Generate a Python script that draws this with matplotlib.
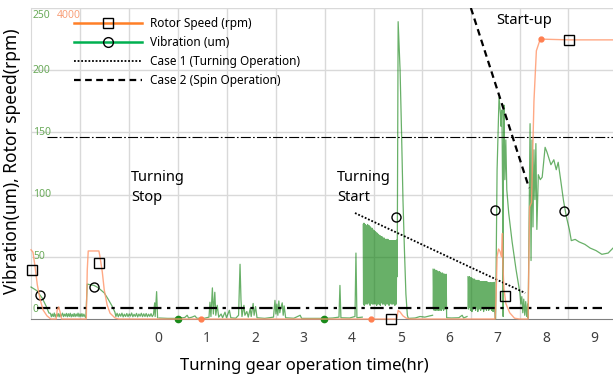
import numpy as np
import matplotlib.pyplot as plt
from matplotlib.lines import Line2D

plt.rcParams['font.family'] = ['Noto Sans', 'DejaVu Sans']

# vibration (um), (hr, um) pairs per stage
vib_stop = [
    (-2.62, 25.7), (-2.55, 24.0), (-2.49, 22.5), (-2.44, 19.5), (-2.39, 16.9), (-2.31, 10.5), (-2.25, 4.8),
    (-2.22, 4.6), (-2.20, 1.8), (-2.18, 4.0), (-2.16, 2.0), (-2.14, 4.8), (-2.12, 1.6), (-2.10, 3.8), (-2.08, 2.2),
    (-2.06, 4.4), (-2.04, 1.7), (-2.02, 4.1), (-2.00, 2.0), (-1.97, 4.7), (-1.95, 1.9), (-1.93, 3.9), (-1.91, 2.3),
    (-1.89, 4.5), (-1.87, 1.8), (-1.85, 4.2), (-1.83, 2.1), (-1.81, 4.6), (-1.79, 1.7), (-1.77, 3.8), (-1.75, 2.0),
    (-1.73, 4.4), (-1.71, 1.9), (-1.69, 4.0), (-1.67, 2.2), (-1.65, 4.7), (-1.63, 1.8), (-1.61, 4.1), (-1.59, 2.0),
    (-1.57, 4.3), (-1.55, 1.9), (-1.53, 3.9), (-1.51, 2.1), (-1.49, 1.0),
    (-1.46, 28.1), (-1.40, 27.5), (-1.32, 27.0), (-1.25, 25.5), (-1.20, 24.0), (-1.11, 21.0), (-1.03, 16.0),
    (-0.95, 10.5), (-0.89, 5.5),
    (-0.87, 2.0), (-0.845, 4.6), (-0.82, 1.8), (-0.795, 4.2), (-0.77, 2.2), (-0.745, 4.7), (-0.72, 1.7),
    (-0.695, 3.9), (-0.67, 2.0), (-0.645, 4.4), (-0.62, 1.9), (-0.595, 4.1), (-0.57, 2.3), (-0.545, 4.8),
    (-0.52, 1.8), (-0.495, 3.8), (-0.47, 2.1), (-0.445, 4.5), (-0.42, 1.7), (-0.395, 4.0), (-0.37, 2.2),
    (-0.345, 4.6), (-0.32, 1.9), (-0.295, 4.2), (-0.27, 2.0), (-0.245, 4.4), (-0.22, 1.8), (-0.195, 3.9),
    (-0.17, 2.1), (-0.145, 4.3), (-0.12, 1.9), (-0.095, 3.5),
    (-0.07, 13.0), (-0.06, 2.0), (-0.03, 22.0), (-0.01, 1.0),
]
vib_idle = [
    (0.02, 0.8), (0.20, 0.5), (0.41, 0.5), (0.55, 1.2), (0.60, 3.0), (0.63, 0.8), (0.70, 1.5), (0.76, 2.5),
    (0.80, 0.6), (0.95, 0.5), (1.05, 1.5), (1.07, 13.5), (1.09, 2.0), (1.12, 25.0), (1.14, 4.0), (1.17, 21.5),
    (1.19, 3.0), (1.22, 11.0), (1.25, 1.5), (1.30, 4.0), (1.33, 1.0), (1.38, 5.5), (1.41, 1.0), (1.47, 7.0),
    (1.50, 1.0), (1.60, 0.6), (1.66, 3.0), (1.69, 44.0), (1.71, 15.0), (1.73, 2.0), (1.77, 11.0), (1.79, 3.0),
    (1.83, 6.0), (1.86, 1.5), (1.90, 8.5), (1.92, 2.0), (1.96, 12.5), (1.98, 3.0), (2.01, 10.0), (2.04, 1.0),
    (2.20, 0.5), (2.38, 1.5), (2.41, 15.0), (2.43, 4.0), (2.45, 12.0), (2.47, 3.0), (2.49, 14.5), (2.51, 5.0),
    (2.53, 9.0), (2.56, 13.0), (2.58, 3.0), (2.60, 10.5), (2.63, 1.0), (2.80, 0.6), (2.93, 3.0), (2.96, 0.5),
    (3.20, 0.5), (3.42, 0.5), (3.60, 0.8), (3.73, 1.5), (3.75, 27.0), (3.77, 1.0), (3.95, 0.8), (4.06, 2.0),
    (4.08, 53.0), (4.10, 1.0), (4.21, 1.5),
]
vib_band1 = [
    (4.230, 76), (4.237, 12), (4.245, 77), (4.252, 11), (4.260, 75), (4.267, 14), (4.275, 76), (4.282, 12),
    (4.290, 74), (4.297, 22), (4.305, 75), (4.312, 12), (4.320, 76), (4.327, 13), (4.335, 74), (4.342, 30),
    (4.350, 75), (4.357, 12), (4.365, 73), (4.372, 11), (4.380, 74), (4.387, 25), (4.395, 72), (4.402, 13),
    (4.410, 73), (4.417, 12), (4.425, 72), (4.432, 35), (4.440, 71), (4.447, 12), (4.455, 71), (4.462, 14),
    (4.470, 70), (4.477, 12), (4.485, 70), (4.492, 28), (4.500, 69), (4.507, 11), (4.515, 69), (4.522, 13),
    (4.530, 68), (4.537, 12), (4.545, 68), (4.552, 20), (4.560, 67), (4.567, 12), (4.575, 67), (4.582, 11),
    (4.590, 66), (4.597, 13), (4.605, 66), (4.612, 40), (4.620, 66), (4.627, 12), (4.635, 65), (4.642, 14),
    (4.650, 65), (4.657, 12), (4.665, 65), (4.672, 26), (4.680, 64), (4.687, 11), (4.695, 64), (4.702, 13),
    (4.710, 64), (4.717, 12), (4.725, 64), (4.732, 18), (4.740, 64), (4.747, 12), (4.755, 63), (4.762, 11),
    (4.770, 63), (4.777, 13), (4.785, 63), (4.792, 30), (4.800, 63), (4.807, 12), (4.815, 63), (4.822, 13),
    (4.830, 63), (4.837, 12), (4.845, 63), (4.852, 22), (4.860, 63), (4.867, 12), (4.875, 63), (4.882, 11),
    (4.890, 63), (4.897, 13), (4.905, 63), (4.912, 12), (4.920, 63.5), (4.930, 34),
    (4.95, 239), (4.99, 200), (5.02, 150), (5.05, 95), (5.08, 55), (5.11, 20), (5.14, 3), (5.16, 0.5),
    (5.30, 0.8), (5.40, 2.0), (5.50, 1.5), (5.60, 2.5), (5.66, 3.0),
]
vib_band2 = [
    (5.670, 40), (5.677, 8), (5.685, 39), (5.692, 7), (5.700, 40), (5.707, 15), (5.715, 38), (5.722, 7),
    (5.730, 39), (5.737, 9), (5.745, 39), (5.752, 7), (5.760, 38), (5.767, 20), (5.775, 38), (5.782, 7),
    (5.790, 37), (5.797, 9), (5.805, 38), (5.812, 7), (5.820, 37), (5.827, 12), (5.835, 37), (5.842, 7),
    (5.850, 36), (5.857, 8), (5.865, 37), (5.872, 18), (5.880, 36), (5.887, 7), (5.895, 36), (5.902, 9),
    (5.910, 36), (5.917, 8), (5.925, 35), (5.932, 10), (5.940, 36), (5.950, 1),
    (6.05, 0.8), (6.20, 1.0), (6.27, 3.0), (6.30, 0.8), (6.37, 2.0),
]
vib_band3 = [
    (6.390, 34), (6.397, 8), (6.405, 33), (6.412, 9), (6.420, 34), (6.427, 18), (6.435, 33), (6.442, 7),
    (6.450, 33), (6.457, 10), (6.465, 33), (6.472, 6), (6.480, 32), (6.487, 15), (6.495, 32), (6.502, 8),
    (6.510, 32), (6.517, 9), (6.525, 32), (6.532, 20), (6.540, 31), (6.547, 7), (6.555, 31), (6.562, 9),
    (6.570, 31), (6.577, 12), (6.585, 31), (6.592, 6), (6.600, 31), (6.607, 10), (6.615, 31), (6.622, 8),
    (6.630, 30), (6.637, 16), (6.645, 30), (6.652, 7), (6.660, 30), (6.667, 9), (6.675, 30), (6.682, 22),
    (6.690, 30), (6.697, 8), (6.705, 30), (6.712, 6), (6.720, 30), (6.727, 11), (6.735, 30), (6.742, 8),
    (6.750, 30), (6.757, 14), (6.765, 30), (6.772, 7), (6.780, 30), (6.787, 9), (6.795, 29), (6.802, 18),
    (6.810, 29), (6.817, 7), (6.825, 29), (6.832, 10), (6.840, 29), (6.847, 8), (6.855, 29), (6.862, 15),
    (6.870, 29), (6.877, 7), (6.885, 29), (6.892, 9), (6.900, 29), (6.907, 6), (6.915, 29), (6.922, 12),
    (6.930, 29.5), (6.937, 9), (6.950, 0.5),
]
vib_startup = [
    (6.96, 0.5), (6.99, 120), (7.03, 178), (7.06, 165), (7.07, 155), (7.09, 168), (7.10, 120), (7.11, 74),
    (7.115, 2), (7.12, 130), (7.13, 172), (7.15, 112), (7.17, 144), (7.19, 104), (7.23, 85), (7.30, 62),
    (7.38, 40), (7.46, 21), (7.48, 12), (7.50, 18), (7.52, 5), (7.54, 16), (7.56, 3), (7.58, 14),
    (7.60, 2), (7.62, 12), (7.63, 0.5), (7.67, 157), (7.69, 47), (7.71, 144), (7.73, 74), (7.75, 136),
    (7.77, 96), (7.79, 141), (7.81, 72), (7.84, 116), (7.88, 112), (7.92, 114), (7.98, 138), (8.02, 134),
    (8.10, 124), (8.16, 128), (8.21, 120), (8.25, 126), (8.30, 112), (8.36, 95), (8.42, 82), (8.48, 72),
    (8.52, 63), (8.60, 64), (8.68, 62), (8.80, 60), (8.91, 57), (9.03, 55), (9.15, 52), (9.28, 53), (9.38, 57),
]

# rotor speed (rpm)
rpm_hr = [-2.62, -2.58, -2.54, -2.49, -2.43, -2.37, -2.29, -2.21, -2.10, -2.08, -2.05, -2.02, -1.99,
          -1.48, -1.46, -1.44, -1.22, -1.20, -1.15, -1.11, -1.05, -0.99, -0.89, -0.82,
          4.92, 4.95, 4.99, 5.05, 5.12, 5.20,
          6.95, 6.97, 6.99, 7.02, 7.05, 7.08, 7.10, 7.11, 7.13, 7.17, 7.25, 7.35, 7.45,
          7.63, 7.66, 7.70, 7.75, 7.80, 7.88, 8.47, 9.38]
rpm = [890, 860, 690, 440, 245, 115, 40, 0, 0, 115, 155, 90, 0,
       0, 630, 875, 875, 810, 605, 375, 180, 75, 15, 0,
       0, 110, 90, 40, 10, 0,
       0, 300, 800, 900, 870, 800, 1100, 700, 400, 200, 80, 10, 0,
       0, 1440, 1500, 2800, 3450, 3600, 3590, 3590]

# marker points
sq_hr = [-2.60, -1.22, 4.80, 7.15, 8.47]
sq_rpm = [630, 720, 0, 296, 3590]
circ_hr = [-2.43, -1.32, 4.91, 6.95, 8.37]
circ_um = [19.3, 25.7, 82.0, 87.6, 86.8]
dot_or_hr = [0.89, 4.39]
dot_or_rpm = [0, 0]
dot_top_hr = [7.90]
dot_top_rpm = [3600]
dot_gr_hr = [0.41, 3.42]
dot_gr_um = [0, 0]

# reference lines
limit_low = 8.8
limit_low_span = [-2.49, 9.15]
limit_high = 146.3
limit_high_span = [-2.29, 9.38]
case1_hr = [4.06, 7.57]
case1_um = [85.2, 20.9]
case2_hr = [6.45, 7.65]
case2_um = [250, 105.3]

xticks = list(range(10))
grid_x = [-1.61, -0.60, 0.41, 1.42, 2.43, 3.44, 4.45, 5.44, 6.45, 7.46, 8.45]
ytick_vals = [0, 50, 100, 150, 200, 250]

fig = plt.figure(figsize=(6.13, 3.78), dpi=100)
ax = fig.add_axes([31 / 613, 1 - 319 / 378, 1 - 31 / 613, 311 / 378])
ax.set_xlim(-2.62, 9.38)
ax.set_ylim(0, 250)

for gx in grid_x:
    ax.axvline(gx, color='#d9d9d9', lw=1, zorder=0)
for gy in ytick_vals[1:]:
    ax.axhline(gy, color='#d9d9d9', lw=1, zorder=0)

for s in ['top', 'right']:
    ax.spines[s].set_visible(False)
ax.spines['left'].set_color('#d9d9d9')
ax.spines['bottom'].set_color('#808080')

ax.set_xticks(xticks)
ax.set_xticklabels([str(t) for t in xticks], fontsize=10, color='#404040')
ax.tick_params(axis='x', length=0, pad=9)
ax.set_yticks([])

vib_col = '#0c800c'
for seg in [vib_stop, vib_idle, vib_band1, vib_band2, vib_band3, vib_startup]:
    arr = np.array(seg)
    ax.plot(arr[:, 0], arr[:, 1], color=vib_col, lw=0.9, alpha=0.62, clip_on=False, zorder=3)

ax.plot(circ_hr, circ_um, 'o', ms=6.5, mfc='none', mec='black', mew=1, zorder=6)
ax.plot(dot_gr_hr, dot_gr_um, 'o', ms=4.5, color='#1a8a1a', clip_on=False, zorder=6)

ax.hlines(limit_low, limit_low_span[0], limit_low_span[1], colors='black', lw=1.6,
          linestyles=[(0, (6, 2.5, 1.5, 2.5))], zorder=5)
ax.hlines(limit_high, limit_high_span[0], limit_high_span[1], colors='black', lw=0.8,
          linestyles=[(0, (9, 2, 1.5, 2))], zorder=5)
ax.plot(case1_hr, case1_um, color='black', lw=1.3, ls=(0, (1, 1)), zorder=5)
ax.plot(case2_hr, case2_um, color='black', lw=1.6, ls=(0, (3, 2)), zorder=5)

# rotor speed on its own scale
ax2 = ax.twinx()
ax2.set_ylim(0, 4000)
ax2.axis('off')
ax2.plot(rpm_hr, rpm, color='#ff9a70', lw=1.0, alpha=0.85, clip_on=False, zorder=4)
ax2.plot(sq_hr, sq_rpm, 's', ms=6.5, mfc='none', mec='black', mew=1, clip_on=False, zorder=6)
ax2.plot(dot_or_hr, dot_or_rpm, 'o', ms=3.5, color='#ff7f50', clip_on=False, zorder=6)
ax2.plot(dot_top_hr, dot_top_rpm, 'o', ms=3.5, color='#ff7f50', zorder=6)

# y tick values drawn inside the plot
for v in ytick_vals:
    va = 'center'
    yy = v
    if v == 250:
        va = 'top'
        yy = 248
    if v == 0:
        va = 'bottom'
        yy = 3
    ax.text(-2.58, yy, str(v), fontsize=7.5, color='#6aaa5a', va=va, ha='left')
ax.text(-2.08, 248, '4000', fontsize=7.5, color='#f8a07a', va='top', ha='left')

ax.text(-0.56, 120, 'Turning\nStop', fontsize=10.5, va='top', ha='left', linespacing=1.45)
ax.text(3.69, 120, 'Turning\nStart', fontsize=10.5, va='top', ha='left', linespacing=1.45)
ax.text(6.97, 246, 'Start-up', fontsize=10.5, va='top', ha='left')

fig.text(12 / 613, 1 - 161 / 378, 'Vibration(um), Rotor speed(rpm)', rotation=90,
         fontsize=12.5, va='center', ha='center')
fig.text(304 / 613, 1 - 366 / 378, 'Turning gear operation time(hr)',
         fontsize=12, va='center', ha='center')

handles = [
    Line2D([], [], color='#ff7f27', lw=1.8, marker='s', ms=7, mfc='none', mec='black'),
    Line2D([], [], color='#00b050', lw=1.8, marker='o', ms=7, mfc='none', mec='black'),
    Line2D([], [], color='black', lw=1.3, ls=(0, (1, 1))),
    Line2D([], [], color='black', lw=1.6, ls=(0, (3, 2))),
]
labels = ['Rotor Speed (rpm)', 'Vibration (um)', 'Case 1 (Turning Operation)', 'Case 2 (Spin Operation)']
leg = ax2.legend(handles, labels, loc='upper left', bbox_to_anchor=(74 / 613, 1 - 17 / 378),
                 bbox_transform=fig.transFigure, frameon=False, fontsize=8.5, borderpad=0,
                 borderaxespad=0, handlelength=5.8, handletextpad=0.6, labelspacing=0.5)

fig.savefig('out.png', dpi=100)
